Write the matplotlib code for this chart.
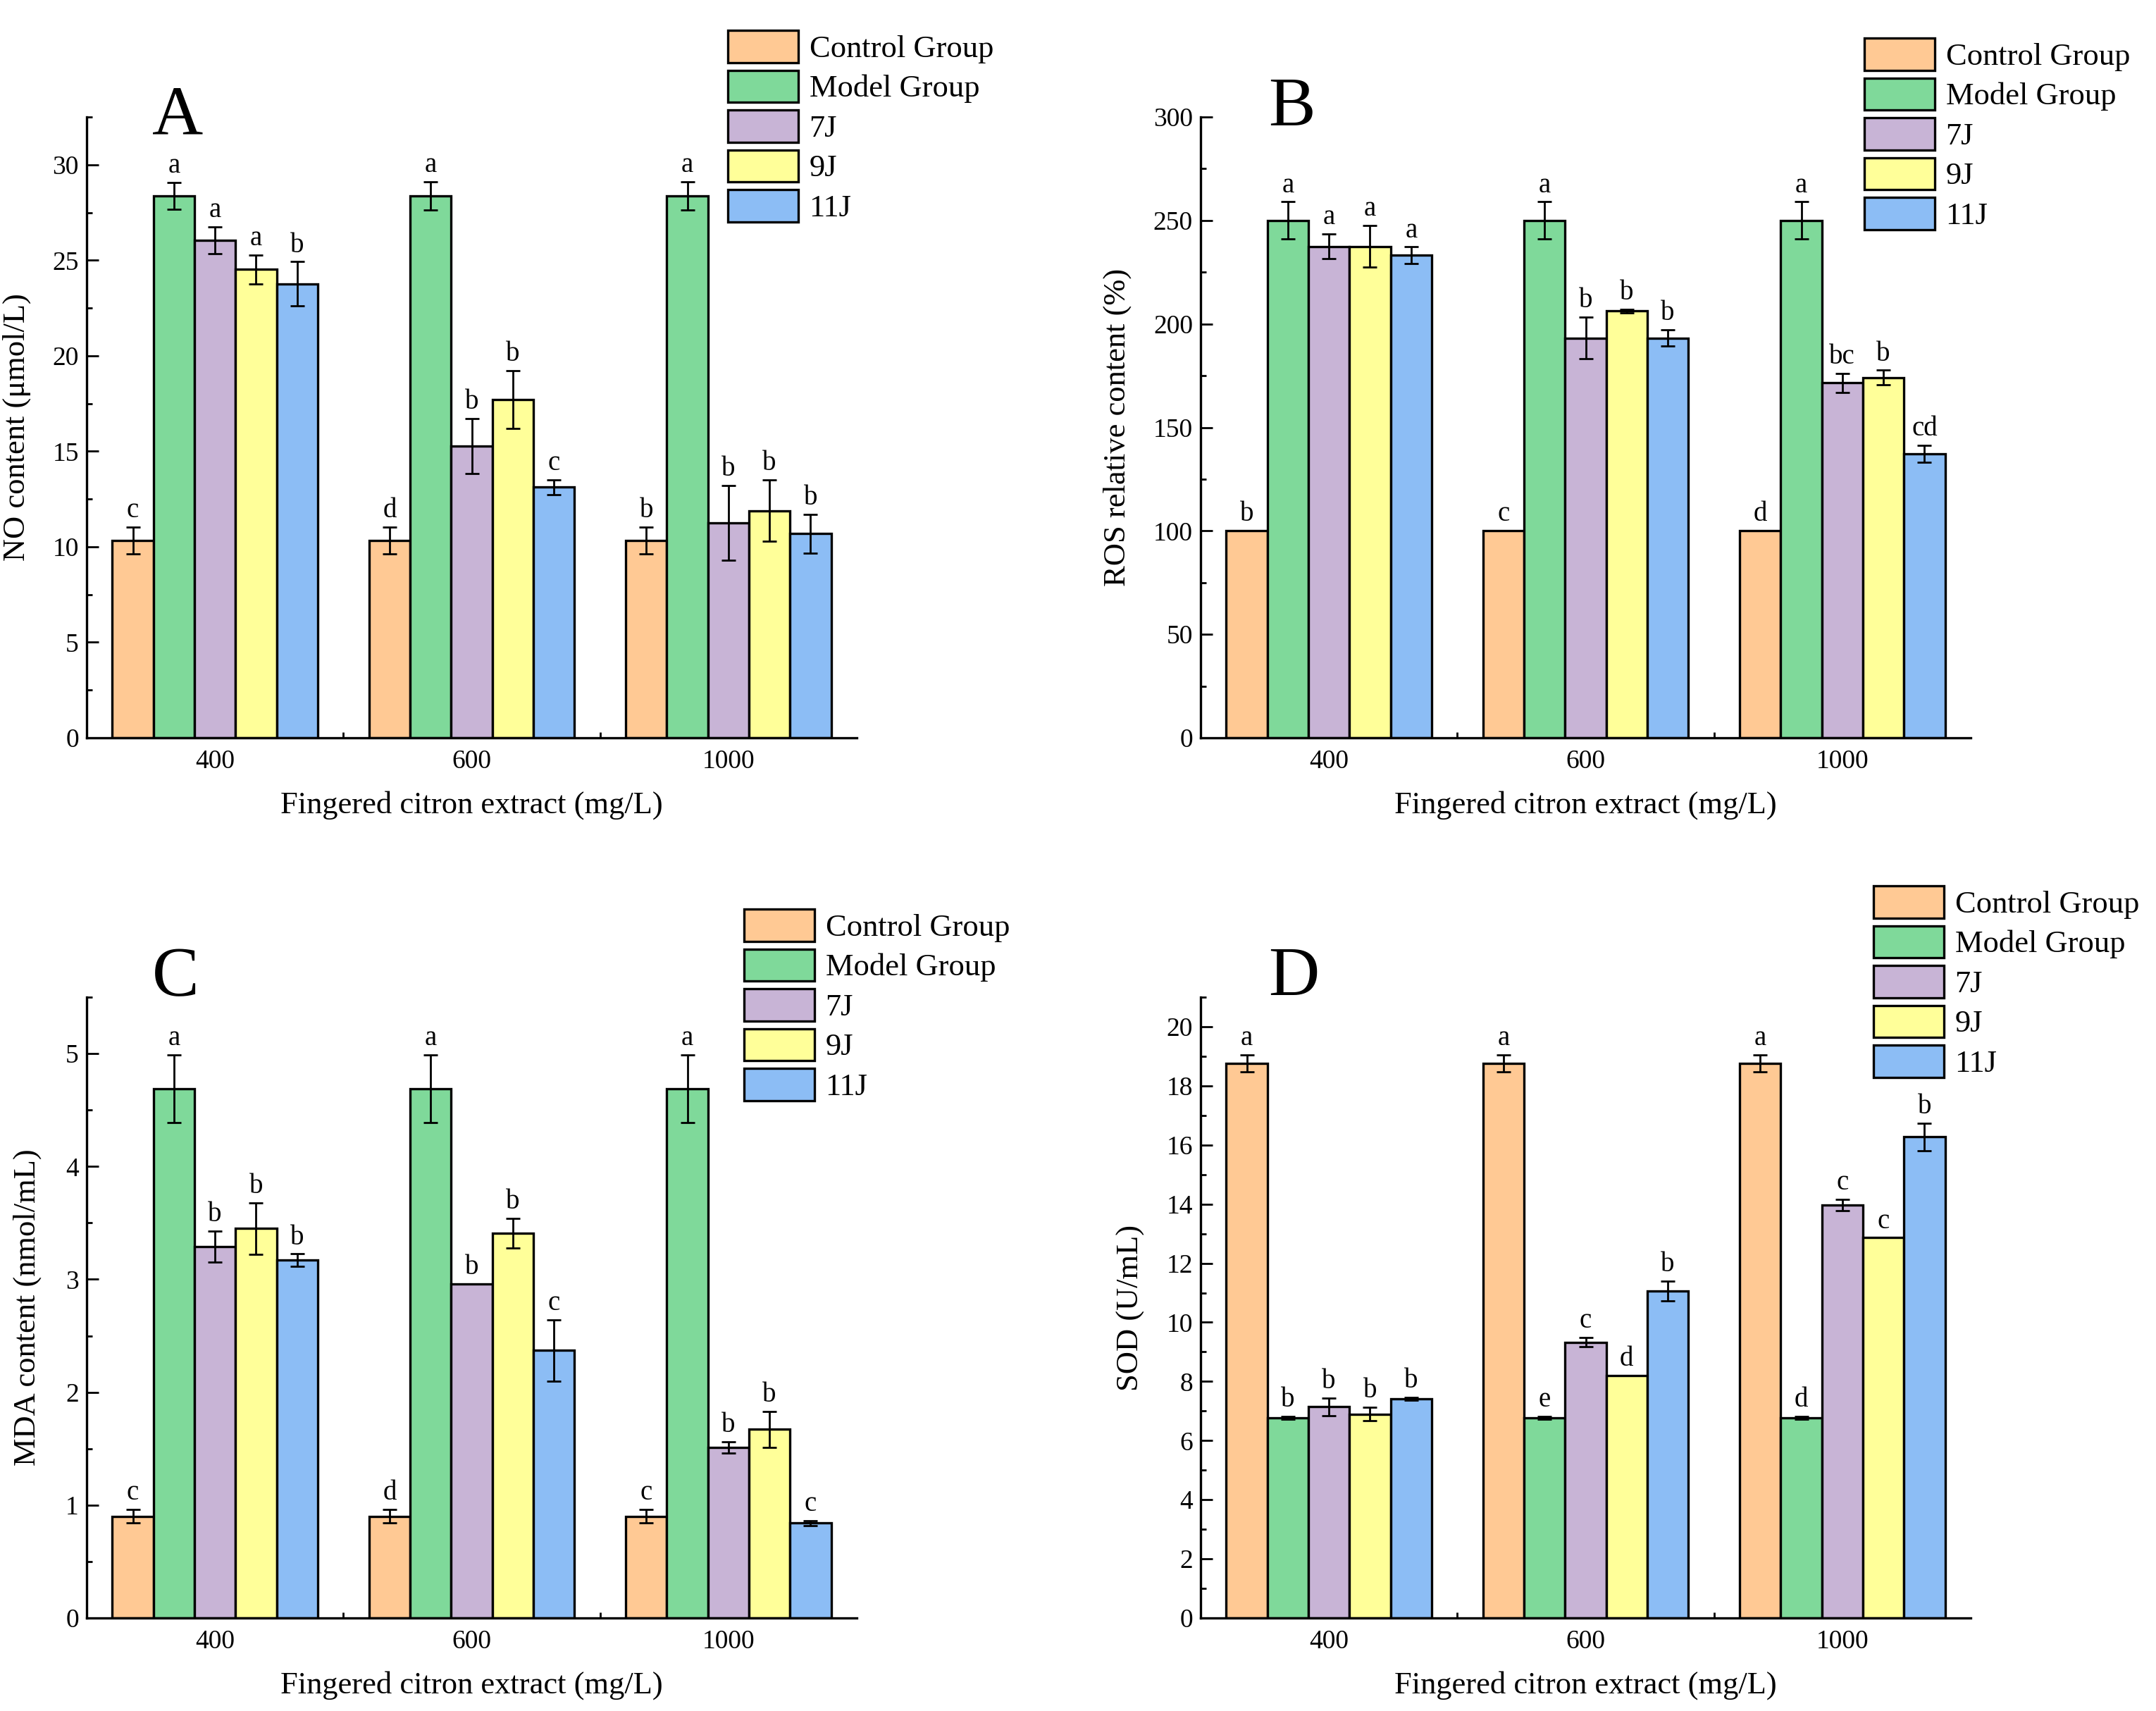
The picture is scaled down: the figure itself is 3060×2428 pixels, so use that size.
import matplotlib
matplotlib.use("Agg")
import matplotlib.pyplot as plt
import numpy as np
from matplotlib.ticker import MultipleLocator

plt.rcParams['font.family'] = ['Liberation Serif', 'DejaVu Serif']
plt.rcParams['mathtext.fontset'] = 'stix'

# данные
doses = ['400', '600', '1000']
groups = ['Control Group', 'Model Group', '7J', '9J', '11J']
colors = ['#FFC994', '#7FD99A', '#C8B4D6', '#FFFF99', '#8CBDF5']

# NO (строки - группы, столбцы - дозы)
no_mean = [[10.34, 10.34, 10.34],
           [28.37, 28.37, 28.37],
           [26.04, 15.27, 11.25],
           [24.52, 17.71, 11.89],
           [23.77, 13.12, 10.68]]
no_err = [[0.7, 0.7, 0.7],
          [0.7, 0.75, 0.75],
          [0.7, 1.45, 1.95],
          [0.75, 1.5, 1.6],
          [1.15, 0.4, 1.0]]
no_sig = [['c', 'd', 'b'],
          ['a', 'a', 'a'],
          ['a', 'b', 'b'],
          ['a', 'b', 'b'],
          ['b', 'c', 'b']]

# ROS
ros_mean = [[100, 100, 100],
            [250, 250, 250],
            [237.5, 193.2, 171.5],
            [237.5, 206.2, 174.1],
            [233.2, 193.2, 137.3]]
ros_err = [[0, 0, 0],
           [9, 9, 9],
           [6, 10, 4.5],
           [10, 1, 3.5],
           [4, 4, 4]]
ros_sig = [['b', 'c', 'd'],
           ['a', 'a', 'a'],
           ['a', 'b', 'bc'],
           ['a', 'b', 'b'],
           ['a', 'b', 'cd']]

# MDA
mda_mean = [[0.90, 0.90, 0.90],
            [4.69, 4.69, 4.69],
            [3.29, 2.96, 1.51],
            [3.45, 3.41, 1.67],
            [3.17, 2.37, 0.84]]
mda_err = [[0.06, 0.06, 0.06],
           [0.3, 0.3, 0.3],
           [0.14, 0.0, 0.05],
           [0.23, 0.13, 0.16],
           [0.055, 0.27, 0.02]]
mda_sig = [['c', 'd', 'c'],
           ['a', 'a', 'a'],
           ['b', 'b', 'b'],
           ['b', 'b', 'b'],
           ['b', 'c', 'c']]

# SOD
sod_mean = [[18.76, 18.76, 18.76],
            [6.77, 6.77, 6.77],
            [7.14, 9.33, 13.97],
            [6.90, 8.20, 12.86],
            [7.42, 11.06, 16.27]]
sod_err = [[0.28, 0.28, 0.28],
           [0.05, 0.05, 0.05],
           [0.3, 0.15, 0.2],
           [0.23, 0.0, 0.0],
           [0.05, 0.33, 0.47]]
sod_sig = [['a', 'a', 'a'],
           ['b', 'e', 'd'],
           ['b', 'c', 'c'],
           ['b', 'd', 'c'],
           ['b', 'b', 'b']]

W, H = 3060, 2428
fig = plt.figure(figsize=(W / 200, H / 200), dpi=200)


def px_axes(l, t, r, b):
    return fig.add_axes([l / W, 1 - b / H, (r - l) / W, (b - t) / H])


def draw_panel(ax, mean, err, sig, ymax, step, ylabel, ylab_x, letter, let_xy, leg_xy):
    x = np.arange(len(doses))
    w = 0.16
    for i in range(len(groups)):
        pos = x + (i - 2) * w
        ax.bar(pos, mean[i], w, color=colors[i], edgecolor='black', lw=1.2,
               label=groups[i], zorder=2)
        ax.errorbar(pos, mean[i], yerr=err[i], fmt='none', ecolor='black',
                    elinewidth=1.0, capsize=3.5, capthick=1.0, zorder=3)
        for j in range(len(doses)):
            ax.annotate(sig[i][j], (pos[j], mean[i][j] + err[i][j]),
                        xytext=(0, 5), textcoords='offset points',
                        ha='center', va='baseline', fontsize=14)
    ax.set_xlim(-0.5, 2.5)
    ax.set_ylim(0, ymax)
    ax.set_xticks(x)
    ax.set_xticklabels(doses)
    ax.set_xticks([0.5, 1.5], minor=True)
    ax.yaxis.set_major_locator(MultipleLocator(step))
    ax.yaxis.set_minor_locator(MultipleLocator(step / 2))
    ax.tick_params(which='both', direction='in', labelsize=13.5, width=1.0)
    ax.tick_params(which='major', length=6)
    ax.tick_params(which='minor', length=3)
    ax.tick_params(axis='x', pad=6)
    ax.tick_params(axis='y', pad=4)
    for s in ['top', 'right']:
        ax.spines[s].set_visible(False)
    for s in ['left', 'bottom']:
        ax.spines[s].set_linewidth(1.2)
    ax.set_xlabel('Fingered citron extract (mg/L)', fontsize=16)
    ax.xaxis.set_label_coords(0.5, -0.085)
    ax.set_ylabel(ylabel, fontsize=16)
    ax.yaxis.set_label_coords(ylab_x, 0.5)
    fig.text(let_xy[0] / W, 1 - let_xy[1] / H, letter, fontsize=36,
             ha='left', va='baseline')
    ax.legend(loc='upper left', bbox_to_anchor=(leg_xy[0] / W, 1 - leg_xy[1] / H),
              bbox_transform=fig.transFigure, frameon=False, fontsize=16,
              handlelength=2.25, handleheight=1.2, labelspacing=0.22,
              handletextpad=0.35, borderpad=0, borderaxespad=0)


axA = px_axes(123, 166, 1216, 1047)
draw_panel(axA, no_mean, no_err, no_sig, 32.5, 5, 'NO content (μmol/L)', -0.072,
           'A', (216, 191), (1033, 43))

axB = px_axes(1704, 166, 2797, 1047)
draw_panel(axB, ros_mean, ros_err, ros_sig, 300, 50, 'ROS relative content (%)', -0.09,
           'B', (1800, 177), (2646, 54))

axC = px_axes(123, 1415, 1216, 2296)
draw_panel(axC, mda_mean, mda_err, mda_sig, 5.5, 1, 'MDA content (nmol/mL)', -0.059,
           'C', (216, 1412), (1056, 1290))

axD = px_axes(1704, 1415, 2797, 2296)
draw_panel(axD, sod_mean, sod_err, sod_sig, 21, 2, 'SOD (U/mL)', -0.072,
           'D', (1800, 1412), (2659, 1257))

fig.savefig('out.png', dpi=200, facecolor='white')
